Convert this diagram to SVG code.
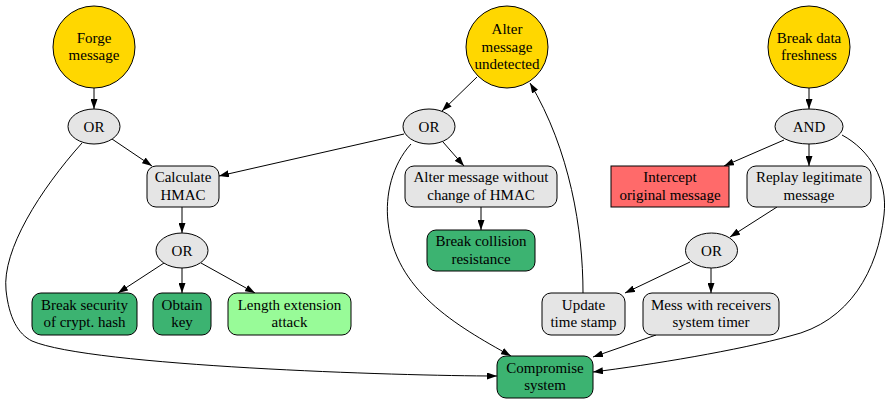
<svg xmlns="http://www.w3.org/2000/svg" width="886" height="401" viewBox="0 0 886 401">
  <style>
    text { font-family: "Liberation Serif", "Times New Roman", serif; font-size: 15px; fill: #000; text-anchor: middle; }
    .goal { fill: #ffd700; stroke: #000; stroke-width: 1; }
    .gate { fill: #e5e5e5; stroke: #000; stroke-width: 1; }
    .step { fill: #e5e5e5; stroke: #000; stroke-width: 1; }
    .leaf { fill: #3cb371; stroke: #000; stroke-width: 1; }
    .pale { fill: #98fb98; stroke: #000; stroke-width: 1; }
    .hot  { fill: #ff6a6a; stroke: #000; stroke-width: 1; }
    .edge { fill: none; stroke: #000; stroke-width: 1; marker-end: url(#arrow); }
  </style>
  <defs>
    <marker id="arrow" markerUnits="userSpaceOnUse" markerWidth="10" markerHeight="7" refX="10" refY="3.5" orient="auto">
      <path d="M0,0 L10,3.5 L0,7 z" fill="#000"/>
    </marker>
  </defs>
  <rect width="886" height="401" fill="#fff"/>

  <g id="connectors">
    <path class="edge" d="M94,88 L94,109"/>
    <path class="edge" d="M112,139 L152,166"/>
    <path class="edge" d="M82,143 C40,190 2,250 6,290 C9,318 18,334 32,341 C90,366 400,376 497,376"/>
    <path class="edge" d="M477,77 L442,111"/>
    <path class="edge" d="M404,134 L219,176"/>
    <path class="edge" d="M443,142 L464,166"/>
    <path class="edge" d="M411,144 C392,165 385,195 388,222 C395,290 455,325 511,356"/>
    <path class="edge" d="M481,207 L481,230"/>
    <path class="edge" d="M182,207 L182,233"/>
    <path class="edge" d="M164,263 L118,293"/>
    <path class="edge" d="M182,268 L182,293"/>
    <path class="edge" d="M201,263 L255,293"/>
    <path class="edge" d="M583,293 C583,230 570,150 530,83"/>
    <path class="edge" d="M809,88 L809,109"/>
    <path class="edge" d="M784,140 L724,166"/>
    <path class="edge" d="M809,144 L809,166"/>
    <path class="edge" d="M842,135 C870,150 888,180 884,215 C878,270 850,322 790,336 C740,350 650,365 593,372"/>
    <path class="edge" d="M777,207 L730,237"/>
    <path class="edge" d="M690,262 L625,293"/>
    <path class="edge" d="M711,268 L711,293"/>
    <path class="edge" d="M656,335 L593,357"/>
  </g>

  <g id="forge-message">
    <circle class="goal" cx="94" cy="47" r="41"/>
    <text x="94" y="42.5">Forge</text>
    <text x="94" y="60">message</text>
  </g>
  <g id="or-forge">
    <ellipse class="gate" cx="94" cy="126.5" rx="26" ry="17.5"/>
    <text x="94" y="131.5">OR</text>
  </g>
  <g id="calculate-hmac">
    <rect class="step" x="147" y="166" width="72" height="41" rx="9"/>
    <text x="183" y="182">Calculate</text>
    <text x="183" y="199.5">HMAC</text>
  </g>
  <g id="or-hmac">
    <ellipse class="gate" cx="182" cy="250.5" rx="26" ry="17.5"/>
    <text x="182" y="255.5">OR</text>
  </g>
  <g id="break-hash">
    <rect class="leaf" x="32" y="293" width="105" height="42" rx="9"/>
    <text x="84.5" y="309.5">Break security</text>
    <text x="84.5" y="327">of crypt. hash</text>
  </g>
  <g id="obtain-key">
    <rect class="leaf" x="153" y="293" width="58" height="42" rx="9"/>
    <text x="182" y="309.5">Obtain</text>
    <text x="182" y="327">key</text>
  </g>
  <g id="length-extension">
    <rect class="pale" x="228" y="293" width="123" height="42" rx="9"/>
    <text x="289.5" y="309.5">Length extension</text>
    <text x="289.5" y="327">attack</text>
  </g>

  <g id="alter-undetected">
    <circle class="goal" cx="507" cy="47" r="41"/>
    <text x="507" y="34">Alter</text>
    <text x="507" y="51.5">message</text>
    <text x="507" y="69">undetected</text>
  </g>
  <g id="or-alter">
    <ellipse class="gate" cx="429" cy="126.5" rx="26" ry="17.5"/>
    <text x="429" y="131.5">OR</text>
  </g>
  <g id="alter-without-hmac">
    <rect class="step" x="405" y="166" width="152" height="41" rx="9"/>
    <text x="481" y="182">Alter message without</text>
    <text x="481" y="199.5">change of HMAC</text>
  </g>
  <g id="break-collision">
    <rect class="leaf" x="427" y="230" width="108" height="41" rx="9"/>
    <text x="481" y="246">Break collision</text>
    <text x="481" y="263.5">resistance</text>
  </g>
  <g id="update-timestamp">
    <rect class="step" x="542" y="293" width="83" height="42" rx="9"/>
    <text x="583.5" y="309.5">Update</text>
    <text x="583.5" y="327">time stamp</text>
  </g>
  <g id="compromise-system">
    <rect class="leaf" x="497" y="356" width="96" height="42" rx="9"/>
    <text x="545" y="372.5">Compromise</text>
    <text x="545" y="390">system</text>
  </g>

  <g id="break-freshness">
    <circle class="goal" cx="809" cy="47" r="41"/>
    <text x="809" y="42.5">Break data</text>
    <text x="809" y="60">freshness</text>
  </g>
  <g id="and-freshness">
    <ellipse class="gate" cx="809" cy="126.5" rx="34" ry="17.5"/>
    <text x="809" y="131.5">AND</text>
  </g>
  <g id="intercept-message">
    <rect class="hot" x="611" y="166" width="118" height="41"/>
    <text x="670" y="182">Intercept</text>
    <text x="670" y="199.5">original message</text>
  </g>
  <g id="replay-message">
    <rect class="step" x="747" y="166" width="124" height="41" rx="9"/>
    <text x="809" y="182">Replay legitimate</text>
    <text x="809" y="199.5">message</text>
  </g>
  <g id="or-replay">
    <ellipse class="gate" cx="711.5" cy="250.5" rx="26" ry="17.5"/>
    <text x="711.5" y="255.5">OR</text>
  </g>
  <g id="mess-timer">
    <rect class="step" x="643" y="293" width="136" height="42" rx="9"/>
    <text x="711" y="309.5">Mess with receivers</text>
    <text x="711" y="327">system timer</text>
  </g>
</svg>
